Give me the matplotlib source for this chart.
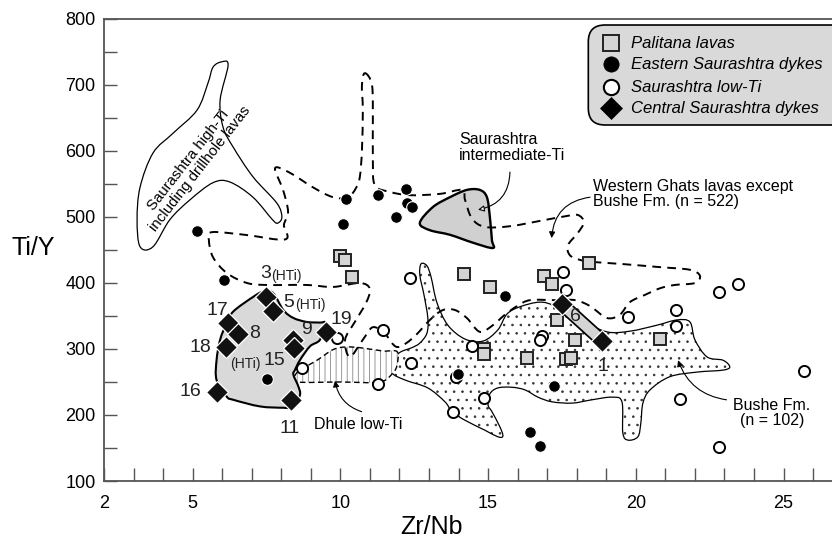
import numpy as np
import matplotlib
matplotlib.use('Agg')
import matplotlib.pyplot as plt
from matplotlib.path import Path
from matplotlib.patches import PathPatch, FancyBboxPatch
from matplotlib.lines import Line2D

plt.rcParams['font.family'] = ['Liberation Sans', 'DejaVu Sans']
plt.rcParams['hatch.linewidth'] = 0.6

# --- sample data (Zr/Nb, Ti/Y) ---
palitana_x = [9.99, 10.16, 10.38, 14.18, 15.06, 16.89, 17.17, 18.42, 17.34, 14.86, 14.86, 16.30, 17.93, 17.65, 17.79, 20.82]
palitana_y = [441, 435, 409, 414, 394, 410, 398, 431, 344, 300, 292, 286, 313, 285, 287, 315]

eastern_x = [5.15, 10.18, 10.10, 11.28, 12.21, 12.24, 12.41, 11.87, 6.06, 7.51, 15.57, 13.99, 17.24, 16.42, 16.75]
eastern_y = [479, 527, 490, 533, 542, 521, 515, 500, 404, 254, 381, 262, 244, 175, 153]

lowti_x = [8.69, 9.87, 11.43, 11.26, 12.38, 12.36, 13.93, 14.45, 16.83, 16.75, 17.55, 17.65, 14.87, 13.80,
           19.72, 21.36, 21.36, 22.82, 23.46, 25.69, 21.49, 22.82]
lowti_y = [271, 316, 329, 247, 279, 407, 258, 305, 319, 314, 416, 389, 226, 205,
           349, 359, 335, 386, 399, 266, 224, 151]

central_x = [7.48, 7.71, 6.21, 6.54, 6.13, 8.40, 8.43, 9.51, 5.81, 8.32, 17.49, 18.87]
central_y = [379, 358, 340, 323, 303, 313, 301, 325, 235, 222, 368, 312]

# --- field outlines ---
hiti_x = [5.98, 6.20, 5.93, 6.03, 6.37, 7.04, 7.85, 8.02, 7.89, 7.72, 7.04, 6.26, 5.69, 4.91, 4.23, 3.66,
          3.22, 3.12, 3.22, 3.66, 4.34, 5.15, 5.52, 5.69]
hiti_y = [735, 730, 677, 636, 606, 561, 521, 500, 491, 495, 530, 553, 552, 526, 496, 455,
          455, 496, 545, 597, 627, 662, 703, 727]

wg_x = [10.83, 11.07, 11.10, 11.10, 11.17, 11.68, 12.36, 13.37, 14.12, 14.22, 14.45, 14.89, 15.74, 16.75,
        17.60, 18.04, 18.24, 18.04, 17.70, 17.77, 18.11, 18.51, 19.46, 20.82, 21.83, 22.17, 22.00, 21.32,
        20.82, 20.31, 19.80, 19.46, 19.02, 18.45, 17.94, 17.26, 16.42, 15.98, 15.57, 15.16, 14.72, 14.28,
        13.88, 13.47, 13.03, 12.46, 11.92, 11.51, 11.10, 10.76, 10.32, 10.16, 10.49, 10.87, 11.00, 10.66,
        9.75, 8.87, 7.52, 6.84, 6.16, 5.69, 5.55, 5.65, 6.77, 8.13, 8.09, 8.23, 8.06, 7.79, 8.29, 9.07,
        9.75, 10.26, 10.53, 10.66, 10.73, 10.76, 10.73]
wg_y = [718, 700, 647, 586, 548, 538, 533, 535, 541, 526, 498, 485, 486, 494,
        501, 503, 492, 476, 457, 442, 435, 432, 429, 424, 420, 411, 400, 397,
        392, 382, 371, 352, 347, 365, 374, 374, 374, 365, 352, 336, 326, 347,
        359, 359, 344, 317, 303, 323, 333, 314, 288, 314, 341, 370, 391, 400,
        394, 397, 397, 400, 415, 439, 465, 477, 473, 466, 488, 508, 541, 574, 567, 545,
        530, 530, 544, 561, 601, 662, 700]

inter_x = [12.69, 13.13, 13.71, 14.28, 14.72, 14.96, 15.06, 15.13, 15.16, 14.49, 13.71, 13.03]
inter_y = [491, 515, 530, 541, 541, 530, 500, 465, 453, 461, 473, 480]

cent_x = [6.38, 7.05, 7.39, 7.72, 8.07, 8.41, 8.86, 9.31, 9.48, 9.31, 8.97, 8.63, 8.46, 8.41, 8.58, 8.63,
          8.40, 8.06, 7.28, 6.38, 6.15, 5.81, 5.81, 5.93, 6.15]
cent_y = [357, 379, 387, 385, 359, 347, 341, 340, 339, 314, 304, 283, 268, 261, 243, 230,
          212, 211, 213, 223, 228, 253, 283, 314, 339]

dhule_x = [8.46, 8.63, 9.21, 9.75, 10.16, 10.66, 11.44, 11.92, 11.92, 11.78, 11.34, 9.99, 8.53]
dhule_y = [259, 268, 283, 299, 303, 302, 297, 296, 276, 264, 250, 250, 250]

bushe_x = [12.73, 12.93, 13.07, 13.27, 13.64, 14.22, 14.83, 15.33, 15.64, 16.08, 16.75, 17.26, 18.11, 19.02,
           19.80, 20.71, 21.39, 21.83, 22.00, 22.41, 22.95, 23.18, 22.95, 22.07, 21.15, 20.48, 20.24, 20.17,
           20.07, 19.73, 19.56, 19.53, 19.19, 18.51, 17.84, 17.16, 16.69, 16.25, 15.81, 15.33, 15.06, 15.00,
           15.13, 15.40, 15.50, 15.33, 14.89, 14.22, 13.78, 13.54, 12.96, 12.19, 11.75, 11.81, 12.02, 12.42,
           12.69, 12.93, 12.96, 12.83, 12.69]
bushe_y = [429, 426, 409, 370, 336, 315, 312, 329, 353, 364, 371, 365, 344, 326,
           327, 336, 344, 341, 314, 288, 283, 273, 268, 265, 258, 238, 218, 188,
           167, 162, 173, 220, 227, 223, 218, 220, 227, 238, 242, 241, 232, 215,
           205, 182, 168, 167, 177, 192, 205, 220, 241, 253, 264, 283, 295, 302,
           309, 324, 347, 382, 412]

# sample numbers of the central dykes: (text, x, y, size, ha)
sample_tags = [('3', 7.65, 415, 14, 'right'), ('(HTi)', 7.67, 410, 10, 'left'),
               ('5', 8.43, 370, 14, 'right'), ('(HTi)', 8.46, 366, 10, 'left'),
               ('17', 5.84, 359, 14, 'center'), ('8', 7.11, 324, 14, 'center'),
               ('18', 5.25, 302, 14, 'center'),
               ('(HTi)', 6.80, 278, 10, 'center'), ('15', 7.76, 282, 14, 'center'),
               ('9', 8.86, 329, 14, 'center'), ('19', 10.04, 344, 14, 'center'),
               ('16', 4.91, 235, 14, 'center'), ('11', 8.29, 180, 14, 'center'),
               ('6', 17.94, 349, 14, 'center'), ('1', 18.90, 273, 14, 'center')]


def smooth_path(xs, ys):
    # closed Catmull-Rom curve through the outline vertices
    pts = np.column_stack([xs, ys]).astype(float)
    n = len(pts)
    verts = [pts[0]]
    codes = [Path.MOVETO]
    for i in range(n):
        p0, p1, p2, p3 = pts[(i - 1) % n], pts[i], pts[(i + 1) % n], pts[(i + 2) % n]
        verts += [p1 + (p2 - p0) / 6, p2 - (p3 - p1) / 6, p2]
        codes += [Path.CURVE4] * 3
    verts.append(pts[0])
    codes.append(Path.CLOSEPOLY)
    return Path(verts, codes)


fig = plt.figure(figsize=(8.32, 5.39), dpi=100)
ax = fig.add_axes([0.125, 0.1076, 0.875, 0.8572])
ax.set_xlim(2, 26.64)
ax.set_ylim(100, 800)

# Bushe Fm. field: stippled
ax.add_patch(PathPatch(smooth_path(bushe_x, bushe_y), facecolor='white', edgecolor='#333333',
                       hatch='..', lw=0, zorder=1))
ax.add_patch(PathPatch(smooth_path(bushe_x, bushe_y), facecolor='none', edgecolor='black',
                       lw=0.9, zorder=1.1))

# Dhule low-Ti: vertical ruling
ax.add_patch(PathPatch(smooth_path(dhule_x, dhule_y), facecolor='white', edgecolor='#888888',
                       hatch='|||', lw=0, zorder=1.2))
ax.add_patch(PathPatch(smooth_path(dhule_x, dhule_y), facecolor='none', edgecolor='black',
                       lw=1.0, linestyle=(0, (4, 2.5)), zorder=1.3))

# central Saurashtra dyke field
ax.add_patch(PathPatch(smooth_path(cent_x, cent_y), facecolor='#d9d9d9', edgecolor='black',
                       lw=1.5, zorder=1.4))

# Saurashtra intermediate-Ti
ax.add_patch(PathPatch(smooth_path(inter_x, inter_y), facecolor='#d0d0d0', edgecolor='black',
                       lw=1.7, zorder=1.5))

# Saurashtra high-Ti
ax.add_patch(PathPatch(smooth_path(hiti_x, hiti_y), facecolor='none', edgecolor='black',
                       lw=0.9, zorder=1.6))

# Western Ghats lavas
ax.add_patch(PathPatch(smooth_path(wg_x, wg_y), facecolor='none', edgecolor='black',
                       lw=1.4, linestyle=(0, (4.5, 3.2)), zorder=1.7))

# tie bar between dykes 6 and 1
ax.plot(central_x[10:12], central_y[10:12], color='black', lw=10, solid_capstyle='butt', zorder=2)
ax.plot(central_x[10:12], central_y[10:12], color='#d4d4d4', lw=7.5, solid_capstyle='butt', zorder=2.1)

# samples
ax.plot(palitana_x, palitana_y, 's', ms=8.6, mfc='#d4d4d4', mec='#222222', mew=1.4, zorder=3)
ax.plot(lowti_x, lowti_y, 'o', ms=8.0, mfc='white', mec='black', mew=1.4, zorder=3.1)
ax.plot(eastern_x, eastern_y, 'o', ms=8.4, mfc='black', mec='white', mew=0.8, zorder=3.2)
ax.plot(central_x, central_y, 'D', ms=11.5, mfc='#111111', mec='white', mew=0.9, zorder=3.3)

for txt, tx, ty, size, align in sample_tags:
    ax.text(tx, ty, txt, fontsize=size, ha=align, va='center', color='#222222', zorder=4)

# field labels
ax.text(5.05, 580, 'Saurashtra high-Ti\nincluding drillhole lavas', fontsize=10.8, rotation=52,
        rotation_mode='anchor', ha='center', va='center', multialignment='center',
        linespacing=1.0, zorder=4)
ax.text(14.01, 605, 'Saurashtra\nintermediate-Ti', fontsize=11.5, ha='left', va='center',
        linespacing=1.05, zorder=4)
ax.text(18.54, 535, 'Western Ghats lavas except\nBushe Fm. (n = 522)', fontsize=11.5,
        ha='left', va='center', linespacing=1.05, zorder=4)
ax.text(24.61, 203, 'Bushe Fm.\n(n = 102)', fontsize=11.5, ha='center', va='center',
        multialignment='center', linespacing=1.05, zorder=4)
ax.text(10.61, 185, 'Dhule low-Ti', fontsize=11.5, ha='center', va='center', zorder=4)

arrow = dict(arrowstyle='-|>', color='black', lw=0.8, mutation_scale=9, shrinkA=0, shrinkB=0)
ax.annotate('', xy=(14.66, 511), xytext=(15.74, 568), zorder=4,
            arrowprops=dict(arrow, connectionstyle='arc3,rad=-0.4', fc='white'))
ax.annotate('', xy=(17.15, 468), xytext=(18.45, 530), zorder=4,
            arrowprops=dict(arrow, connectionstyle='arc3,rad=0.4'))
ax.annotate('', xy=(21.43, 283), xytext=(23.07, 223), zorder=4,
            arrowprops=dict(arrow, connectionstyle='arc3,rad=-0.3'))
ax.annotate('', xy=(9.82, 252), xytext=(10.72, 205), zorder=4,
            arrowprops=dict(arrow, connectionstyle='arc3,rad=-0.3'))

# axes styling
for side in ['left', 'bottom', 'top']:
    ax.spines[side].set_color('#555555')
    ax.spines[side].set_linewidth(1.3)
ax.spines['right'].set_visible(False)

ax.set_xticks([2, 5, 10, 15, 20, 25])
ax.set_xticks(range(3, 27), minor=True)
ax.set_yticks(range(100, 801, 100))
ax.set_yticks(range(150, 800, 100), minor=True)
ax.tick_params(which='both', direction='in', length=9.5, width=1.0, color='#555555',
               top=False, right=False)
ax.tick_params(axis='x', labelsize=13, pad=10)
ax.tick_params(axis='y', labelsize=13, pad=6)

ax.text(-0.0975, 0.504, 'Ti/Y', transform=ax.transAxes, fontsize=18, ha='center', va='center')
ax.text(0.4505, -0.0996, 'Zr/Nb', transform=ax.transAxes, fontsize=18, ha='center', va='center')

# legend box (runs past the right edge)
fig.add_artist(FancyBboxPatch((0.7071, 0.7681), 0.35, 0.1855,
                              boxstyle='round,pad=0,rounding_size=0.02', mutation_aspect=832 / 539,
                              transform=fig.transFigure, facecolor='#d9d9d9', edgecolor='black',
                              lw=1.2, clip_on=False))
legend_rows = [
    ('Palitana lavas', dict(marker='s', ms=11.5, mfc='#d4d4d4', mec='#222222', mew=1.4)),
    ('Eastern Saurashtra dykes', dict(marker='o', ms=11, mfc='black', mec='black', mew=0.5)),
    ('Saurashtra low-Ti', dict(marker='o', ms=11, mfc='white', mec='black', mew=1.5)),
    ('Central Saurashtra dykes', dict(marker='D', ms=11.5, mfc='black', mec='black', mew=0.5)),
]
row_y = [0.9197, 0.8807, 0.8380, 0.7990]
for (name, style), yy in zip(legend_rows, row_y):
    fig.add_artist(Line2D([0.734], [yy], transform=fig.transFigure, linestyle='none', **style))
    fig.text(0.7584, yy, name, fontsize=12, style='italic', ha='left', va='center')

fig.savefig('out.png', dpi=100)
